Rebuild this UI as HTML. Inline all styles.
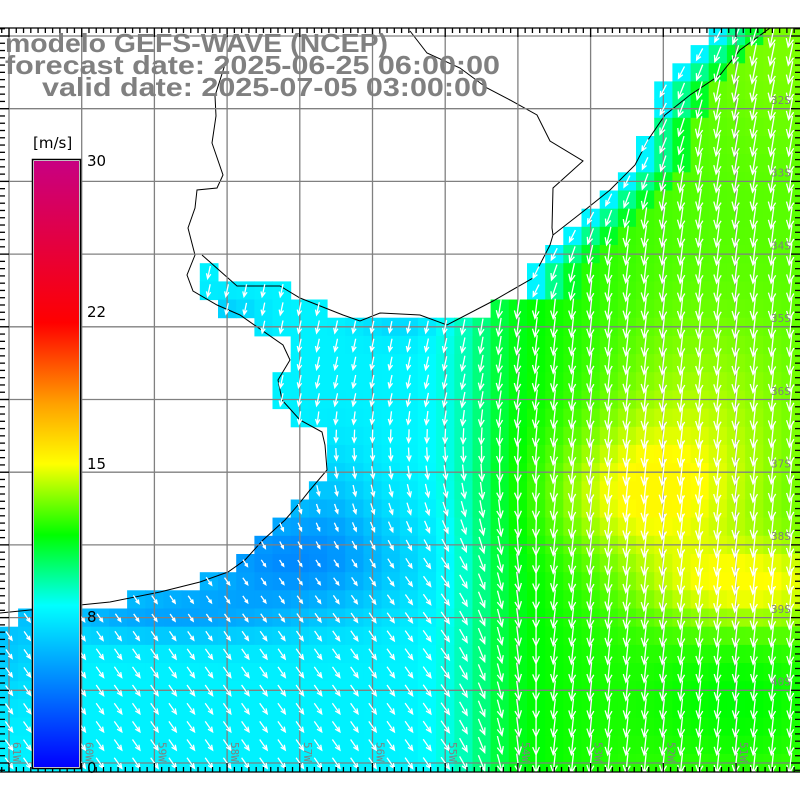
<!DOCTYPE html>
<html><head><meta charset="utf-8"><style>
html,body{margin:0;padding:0;background:#fff;}
svg{display:block;}
</style></head><body>
<svg id="s" width="800" height="800" xmlns="http://www.w3.org/2000/svg">
<rect width="800" height="800" fill="#fff"/>
<defs><clipPath id="pc"><rect x="0" y="28" width="800" height="744"/></clipPath>
<linearGradient id="cb" x1="0" y1="1" x2="0" y2="0">
<stop offset="0" stop-color="#0000ff"/>
<stop offset="0.2667" stop-color="#00ffff"/>
<stop offset="0.383" stop-color="#00ff00"/>
<stop offset="0.5" stop-color="#ffff00"/>
<stop offset="0.6" stop-color="#ffa000"/>
<stop offset="0.733" stop-color="#ff0000"/>
<stop offset="1" stop-color="#c80082"/>
</linearGradient></defs>
<g clip-path="url(#pc)">
<g id="cells"></g>
<g fill="none" stroke="#000" stroke-width="1">
<path d="M770,28 L740,50 L720,75 L690,95 L665,115 L648,140 L635,165 L610,190 L585,210 L553,235 L550,245 L533,278 L493,301 L447,325 L420,315 L380,313 L360,321 L343,315 L300,298 L280,286 L237,286 L202,255"/>
<path d="M410,31 L427,53 L460,68 L487,88 L510,100 L537,115 L550,141 L583,161 L553,188 L552,228 L553,235"/>
<path d="M227,28 L227,58 L215,96 L216,116 L212,143 L223,175 L217,188 L197,190 L195,208 L188,228 L195,255 L187,275 L193,291 L217,305 L240,315 L283,345 L290,360 L278,380 L282,400 L300,420 L322,432 L325,445 L327,470 L310,490 L298,505 L285,520 L263,540 L245,560 L228,572 L200,582 L160,592 L110,602 L60,607 L30,610 L0,613"/>
</g>
<g id="grid" stroke="#808080" stroke-width="1.3"></g>
<g id="arrows" stroke="#fff" stroke-width="1.3" fill="none"></g>
</g>
<g id="ticks" stroke="#000" stroke-width="1.3"></g>
<g font-family="Liberation Sans, sans-serif" font-weight="bold" fill="#808080" font-size="26">
<text x="5" y="52" textLength="383" lengthAdjust="spacingAndGlyphs">modelo GEFS-WAVE (NCEP)</text>
<text x="5" y="74" textLength="495" lengthAdjust="spacingAndGlyphs">forecast date: 2025-06-25 06:00:00</text>
<text x="42" y="96" textLength="446" lengthAdjust="spacingAndGlyphs">valid date: 2025-07-05 03:00:00</text>
</g>
<g id="lab" font-family="DejaVu Sans Mono, monospace" fill="#808080" font-size="11"></g>
<rect x="32.5" y="159.5" width="48" height="609" fill="#fff" stroke="#000" stroke-width="1.5"/>
<rect x="34" y="161" width="45" height="606" fill="url(#cb)"/>
<g font-family="DejaVu Sans, sans-serif" font-size="15" fill="#000">
<text x="33" y="148">[m/s]</text>
<text x="87" y="166">30</text>
<text x="87" y="317">22</text>
<text x="87" y="469">15</text>
<text x="87" y="622">8</text>
<text x="87" y="773">0</text>
</g>
</svg>
<script>
const NS="http://www.w3.org/2000/svg";
function el(p,t,a){const e=document.createElementNS(NS,t);for(const k in a)e.setAttribute(k,a[k]);p.appendChild(e);return e;}
const cells=document.getElementById('cells'),arrows=document.getElementById('arrows');
const rows=[[28,710],[46,692],[64,673],[82,655],[100,655],[118,645],[136,640],[154,630],[172,618],[190,600],[208,582],[226,564],[244,545],[262,527],[280,527],[298,491],[318,255],[336,290],[354,290],[372,275],[390,275],[408,290],[420,327],[482,309],[500,291],[518,273],[536,255],[554,236],[572,200],[590,127],[608,18],[626,0]];
function coastX(y){let c=0;for(const r of rows){if(y>=r[0])c=r[1];}return c;}
function ocean(x0,y0){
 const cy=y0+9;
 if(cy>263&&cy<281&&x0>=196&&x0<=204)return true;
 if(cy>281&&cy<300&&x0>=196&&x0+18<=295)return true;
 if(cy>300&&cy<318&&x0>=214&&x0+18<=331)return true;
 return x0>=coastX(cy)-4;
}
function g(x,y,cx,cy,sx,sy){return Math.exp(-((x-cx)**2/(2*sx*sx)+(y-cy)**2/(2*sy*sy)));}
function sig(z){return 1/(1+Math.exp(-z));}
function val(x,y){
 let v=7.6+3.8*sig((x-485)/16)+1.3*sig((x-600)/40);
 v+=0.8*sig((x-440)/12)*(1-sig((x-485)/16));
 v+=2.6*g(x,y,640,495,65,45)+2.6*g(x,y,745,585,70,30)+1.2*g(x,y,690,420,70,70)+0.5*g(x,y,780,60,60,60);
 v=Math.min(v,15.2);
 v-=3.2*g(x,y,290,560,80,40)+0.8*g(x,y,330,490,30,40)+2.2*g(x,y,150,615,90,18);
 v-=1.2*g(x,y,225,318,25,15)+0.8*g(x,y,400,325,30,12);
 v-=1.2*g(x,y,10,650,25,40);
 v-=1.2*g(x,y,740,700,80,60);
 if(y<300&&x>480){const d=x-coastX(y);if(d<18)v=Math.min(v,7.7);else if(d<36)v=Math.min(v,9.6);else if(d<54)v=Math.min(v,11);}
 return v;
}
const stops=[[0,[0,0,255]],[8,[0,255,255]],[11.5,[0,255,0]],[15,[255,255,0]],[18,[255,160,0]],[22,[255,0,0]],[30,[200,0,130]]];
function col(v){for(let i=0;i<stops.length-1;i++){const[a,ca]=stops[i],[b,cb]=stops[i+1];if(v<=b){const f=Math.max(0,(v-a)/(b-a));return'rgb('+ca.map((c,j)=>Math.round(c+(cb[j]-c)*f)).join(',')+')';}}return'rgb(200,0,130)';}
const cw=72.7/4,ch=72.7/4;
for(let j=-3;j<42;j++){
 const y0=36+ch*(j+0.5);
 for(let i=-2;i<44;i++){
  const x0=9+cw*(i+0.5);
  const cx=x0+cw/2,cy=y0+ch/2;
  if(!ocean(x0,y0))continue;
  const v=val(cx,cy);
  el(cells,'rect',{x:x0.toFixed(1),y:y0.toFixed(1),width:(cw+0.5).toFixed(1),height:(ch+0.5).toFixed(1),fill:col(v)});
  if(cy<30)continue;
  let aw=-12+47*Math.min(1,Math.max(0,(cy-400)/170));
  let ae=-6-6*Math.max(0,(300-cy)/270);
  let t=Math.min(1,Math.max(0,(cx-450)/100));
  let a=(aw*(1-t)+ae*t)*Math.PI/180;
  if(cy<300&&cx>480)a=(-30)*Math.PI/180*(1-Math.min(1,(cx-coastX(cy))/60))+a*Math.min(1,(cx-coastX(cy))/60);
  const L=v*1.7;
  const sx=cx-Math.sin(a)*L/2,sy=cy-Math.cos(a)*L/2,ex=cx+Math.sin(a)*L/2,ey=cy+Math.cos(a)*L/2;
  const h=Math.min(9,L*0.42),ha=0.42;
  const b1x=ex-Math.sin(a-ha)*h,b1y=ey-Math.cos(a-ha)*h,b2x=ex-Math.sin(a+ha)*h,b2y=ey-Math.cos(a+ha)*h;
  el(arrows,'path',{d:`M${sx.toFixed(1)},${sy.toFixed(1)}L${ex.toFixed(1)},${ey.toFixed(1)}M${b1x.toFixed(1)},${b1y.toFixed(1)}L${ex.toFixed(1)},${ey.toFixed(1)}L${b2x.toFixed(1)},${b2y.toFixed(1)}`});
 }
}
const grid=document.getElementById('grid');
for(let i=0;i<11;i++){const x=9+72.7*i;el(grid,'line',{x1:x,y1:28,x2:x,y2:772});}
for(let i=0;i<11;i++){const y=36+72.7*i;el(grid,'line',{x1:0,y1:y,x2:800,y2:y});}
const tk=document.getElementById('ticks');
el(tk,'line',{x1:0,y1:28,x2:800,y2:28});
el(tk,'line',{x1:0,y1:772,x2:800,y2:772});
for(let x=9-72.7;x<800;x+=72.7/10){if(x<0)continue;const maj=Math.abs(((x-9)/72.7)-Math.round((x-9)/72.7))<0.01;const L=maj?9:5;
 el(tk,'line',{x1:x,y1:28,x2:x,y2:28+L});el(tk,'line',{x1:x,y1:772,x2:x,y2:772-L});}
for(let y=36-72.7;y<772;y+=72.7/10){if(y<28)continue;const maj=Math.abs(((y-36)/72.7)-Math.round((y-36)/72.7))<0.01;const L=maj?9:5;
 el(tk,'line',{x1:0,y1:y,x2:L,y2:y});el(tk,'line',{x1:800,y1:y,x2:800-L,y2:y});}
const lab=document.getElementById('lab');
const lats=['32S','33S','34S','35S','36S','37S','38S','39S','40S'];
lats.forEach((t,i)=>{const y=104+72.7*i;const e=el(lab,'text',{x:771,y:y});e.textContent=t;});
const lons=['61W','60W','59W','58W','57W','56W','55W','54W','53W','52W','51W'];
lons.forEach((t,i)=>{const x=13+72.7*i;const e=el(lab,'text',{x:0,y:0,transform:`translate(${x},742) rotate(90)`});e.textContent=t;});
</script>
</body></html>
